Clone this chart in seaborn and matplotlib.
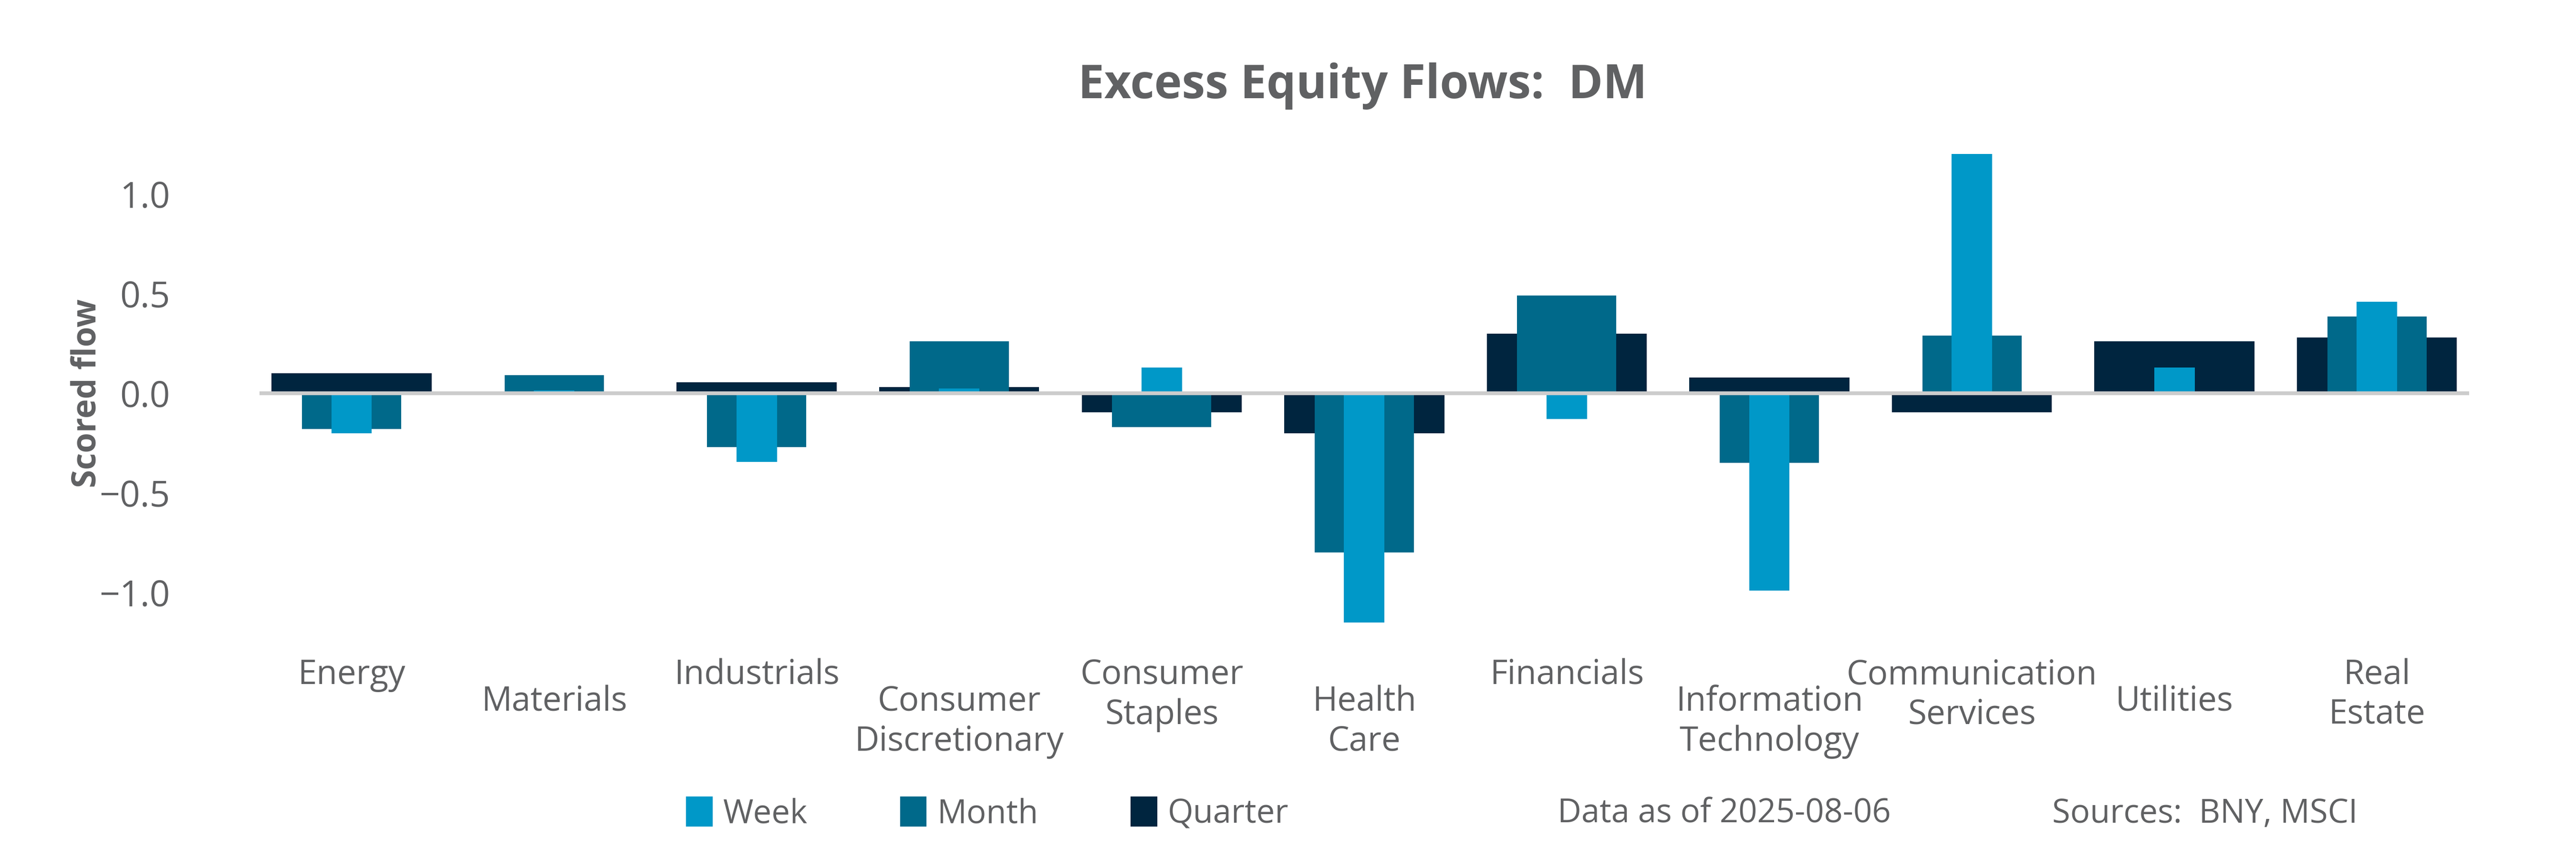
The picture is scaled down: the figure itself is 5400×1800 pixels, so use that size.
import pandas as pd
import numpy as np
import matplotlib.pyplot as plt
import seaborn as sns
from matplotlib.patches import Patch

sectors = ['Energy', 'Materials', 'Industrials', 'Consumer\nDiscretionary',
           'Consumer\nStaples', 'Health\nCare', 'Financials',
           'Information\nTechnology', 'Communication\nServices', 'Utilities',
           'Real\nEstate']
week = [-0.20, 0.015, -0.345, 0.025, 0.13, -1.15, -0.13, -0.99, 1.20, 0.13, 0.46]
month = [-0.18, 0.09, -0.27, 0.26, -0.17, -0.80, 0.49, -0.35, 0.29, 0.0, 0.385]
quarter = [0.10, 0.0, 0.055, 0.03, -0.095, -0.20, 0.30, 0.08, -0.095, 0.26, 0.28]

WEEK_C = '#0098C8'
MONTH_C = '#00698A'
QUARTER_C = '#00253F'
GRAY = '#606163'

sns.set_theme(style='white')
plt.rcParams['font.family'] = ['Open Sans', 'DejaVu Sans']
plt.rcParams['text.color'] = GRAY

df = pd.DataFrame({'sector': sectors, 'Week': week, 'Month': month, 'Quarter': quarter})

fig = plt.figure(figsize=(18, 6), dpi=300)
ax = fig.add_axes([0.1007, 0.2514, 0.8578, 0.5922])

# widest at the back, narrowest in front
bar_kw = dict(saturation=1, errorbar=None, linewidth=0, edgecolor='none', ax=ax)
sns.barplot(data=df, x='sector', y='Quarter', color=QUARTER_C, width=0.79, **bar_kw)
sns.barplot(data=df, x='sector', y='Month', color=MONTH_C, width=0.49, **bar_kw)
sns.barplot(data=df, x='sector', y='Week', color=WEEK_C, width=0.20, **bar_kw)

ax.axhline(0, color='#CCCCCC', lw=1.9, zorder=5)

ax.set_xlim(-0.455, 10.455)
ax.set_ylim(-1.25, 1.3)
ax.set_yticks([-1.0, -0.5, 0.0, 0.5, 1.0])
ax.set_yticklabels(['\u22121.0', '\u22120.5', '0.0', '0.5', '1.0'])

# staggered category labels: even ones high, odd ones low
idx = np.arange(len(sectors))
ax.set_xticks(idx[::2], [sectors[i] for i in idx[::2]])
ax.set_xticks(idx[1::2], [sectors[i] for i in idx[1::2]], minor=True)
ax.tick_params(axis='x', which='major', length=0, pad=8, labelsize=17, labelcolor=GRAY)
ax.tick_params(axis='x', which='minor', length=0, pad=21.5, labelsize=17, labelcolor=GRAY)
ax.tick_params(axis='y', length=0, pad=45, labelsize=18, labelcolor=GRAY)
for lab in ax.get_xticklabels(which='both'):
    lab.set_multialignment('center')
    lab.set_linespacing(1.22)

ax.set_xlabel('')
ax.set_ylabel('Scored flow', fontsize=16.5, fontweight='bold', color=GRAY)
ax.yaxis.set_label_coords(-0.0705, 0.49)
sns.despine(ax=ax, left=True, bottom=True)

fig.text(0.529, 0.900, 'Excess Equity Flows:  DM', ha='center', va='center',
         fontsize=23.5, fontweight='bold', color=GRAY)

leg_y = 1 - 1708 / 1800
handles = [Patch(color=WEEK_C, label='Week'),
           Patch(color=MONTH_C, label='Month'),
           Patch(color=QUARTER_C, label='Quarter')]
fig.legend(handles=handles, loc='center left', bbox_to_anchor=(1440 / 5400, leg_y),
           ncol=3, frameon=False, handlelength=0.75, handleheight=0.95,
           handletextpad=0.35, columnspacing=2.85, fontsize=16.5, labelcolor=GRAY,
           borderpad=0, borderaxespad=0)
fig.text(3265 / 5400, leg_y, 'Data as of 2025-08-06', va='center', fontsize=16.5)
fig.text(4302 / 5400, leg_y, 'Sources:  BNY, MSCI', va='center', fontsize=16.5)

plt.savefig('out.png', dpi=300)
